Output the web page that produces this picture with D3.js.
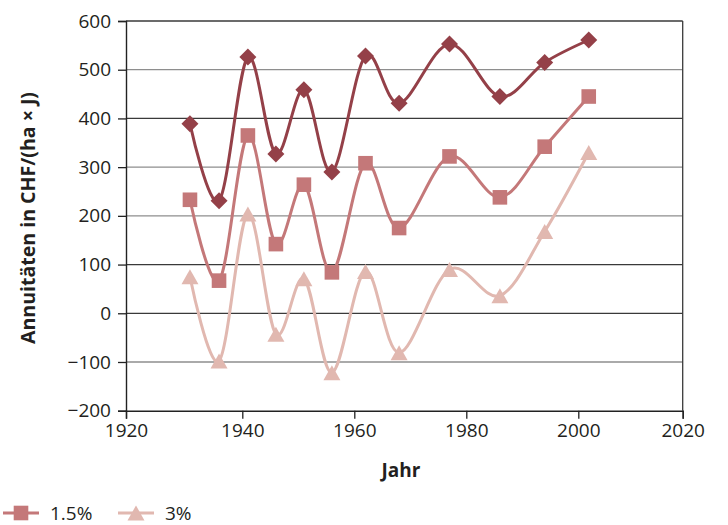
<!DOCTYPE html>
<html>
<head>
<meta charset="utf-8">
<script src="https://cdn.jsdelivr.net/npm/d3@7"></script>
<style>
  html, body { margin: 0; padding: 0; background: #fff; }
  svg { display: block; font-family: "Open Sans", "DejaVu Sans", sans-serif; }
</style>
</head>
<body>
<svg id="chart" width="728" height="525"></svg>
<script>
// ---- data ----
const years = [1931, 1936, 1941, 1946, 1951, 1956, 1962, 1968, 1977, 1986, 1994, 2002];
const seriesNames = ["1%", "1.5%", "3%"];
const values1 = [389, 231, 526, 327, 459, 290, 528, 431, 553, 445, 515, 561];
const values15 = [233, 67, 365, 142, 264, 84, 308, 175, 322, 238, 342, 445];
const values3 = [75, -98, 204, -43, 71, -122, 86, -81, 90, 36, 168, 330];
const xTicks = [1920, 1940, 1960, 1980, 2000, 2020];
const yTicks = [-200, -100, 0, 100, 200, 300, 400, 500, 600];
const legendNames = ["1.5%", "3%"];

// ---- styles ----
const colors = {"1%": "#944048", "1.5%": "#c47879", "3%": "#e1b8b0"};
const shapes = {"1%": "diamond", "1.5%": "square", "3%": "triangle"};

const svg = d3.select("#chart");

const x = d3.scaleLinear().domain([1920, 1940, 2000, 2020]).range([126, 242.3, 578.3, 682.7]);
const y = d3.scaleLinear().domain([-200, 600]).range([410.7, 21]);

// gridlines
const darkGrid = new Set([400, 100, 0, 600]);
svg.append("g").selectAll("line").data(yTicks.filter(d => d !== -200)).join("line")
  .attr("x1", x(1920)).attr("x2", x(2020))
  .attr("y1", d => y(d)).attr("y2", d => y(d))
  .attr("stroke", d => darkGrid.has(d) ? "#3a3a3a" : "#8e8e8e")
  .attr("stroke-width", 1.3);

// right frame
svg.append("line").attr("x1", x(2020)).attr("x2", x(2020)).attr("y1", y(600)).attr("y2", y(-200))
  .attr("stroke", "#3a3a3a").attr("stroke-width", 1.3);

// axes
const yAxis = d3.axisLeft(y).tickValues(yTicks).tickSize(8).tickPadding(7)
  .tickFormat(d => d < 0 ? "\u2212" + Math.abs(d) : d);
const gy = svg.append("g").attr("transform", `translate(${x(1920)},0)`).call(yAxis);
gy.select(".domain").attr("stroke", "#222").attr("stroke-width", 1.4);
gy.selectAll(".tick line").attr("stroke", "#222").attr("stroke-width", 1.3);
gy.selectAll(".tick text").attr("font-size", 19).attr("fill", "#231f20")
  .attr("font-family", "'Open Sans', sans-serif");

const xAxis = d3.axisBottom(x).tickValues(xTicks).tickSize(8).tickPadding(5).tickFormat(d3.format("d"));
const gx = svg.append("g").attr("transform", `translate(0,${y(-200)})`).call(xAxis);
gx.select(".domain").attr("stroke", "#222").attr("stroke-width", 1.4);
gx.selectAll(".tick line").attr("stroke", "#222").attr("stroke-width", 1.3);
gx.selectAll(".tick text").attr("font-size", 19).attr("fill", "#231f20")
  .attr("font-family", "'Open Sans', sans-serif");

// axis titles
svg.append("text").attr("transform", "translate(35,218) rotate(-90)")
  .attr("text-anchor", "middle").attr("font-weight", "bold").attr("font-size", 19)
  .attr("fill", "#231f20").attr("textLength", 252).attr("lengthAdjust", "spacingAndGlyphs")
  .text("Annuitäten in CHF/(ha × J)");
svg.append("text").attr("x", 401).attr("y", 477)
  .attr("text-anchor", "middle").attr("font-weight", "bold").attr("font-size", 19)
  .attr("fill", "#231f20").text("Jahr");

// markers
function marker(sel, shape) {
  if (shape === "diamond") {
    const s = 8.5;
    sel.append("path").attr("d", `M0,${-s}L${s},0L0,${s}L${-s},0Z`);
  } else if (shape === "square") {
    const s = 7.3;
    sel.append("rect").attr("x", -s).attr("y", -s).attr("width", 2 * s).attr("height", 2 * s);
  } else {
    const w = 8.5, h = 7.5;
    sel.append("path").attr("d", `M0,${-h}L${w},${h}L${-w},${h}Z`);
  }
}

const line = d3.line().x(d => x(d[0])).y(d => y(d[1])).curve(d3.curveCardinal.tension(0));
const data = [["1%", values1], ["1.5%", values15], ["3%", values3]];

data.forEach(([name, vals]) => {
  const pts = years.map((yr, i) => [yr, vals[i]]);
  svg.append("path").datum(pts).attr("d", line)
    .attr("fill", "none").attr("stroke", colors[name]).attr("stroke-width", 3);
  const g = svg.append("g").attr("fill", colors[name]);
  pts.forEach(p => {
    const m = g.append("g").attr("transform", `translate(${x(p[0])},${y(p[1])})`);
    marker(m, shapes[name]);
  });
});

// legend (cut at left edge as in the reference)
const legendX = [3, 118];
legendNames.forEach((name, i) => {
  const g = svg.append("g").attr("transform", `translate(${legendX[i]},513)`);
  g.append("line").attr("x1", 0).attr("x2", 36).attr("y1", 0).attr("y2", 0)
    .attr("stroke", colors[name]).attr("stroke-width", 3);
  const m = g.append("g").attr("transform", "translate(18,0)").attr("fill", colors[name]);
  marker(m, shapes[name]);
  g.append("text").attr("x", 47).attr("y", 7).attr("font-size", 19).attr("fill", "#231f20")
    .text(name);
});
</script>
</body>
</html>
